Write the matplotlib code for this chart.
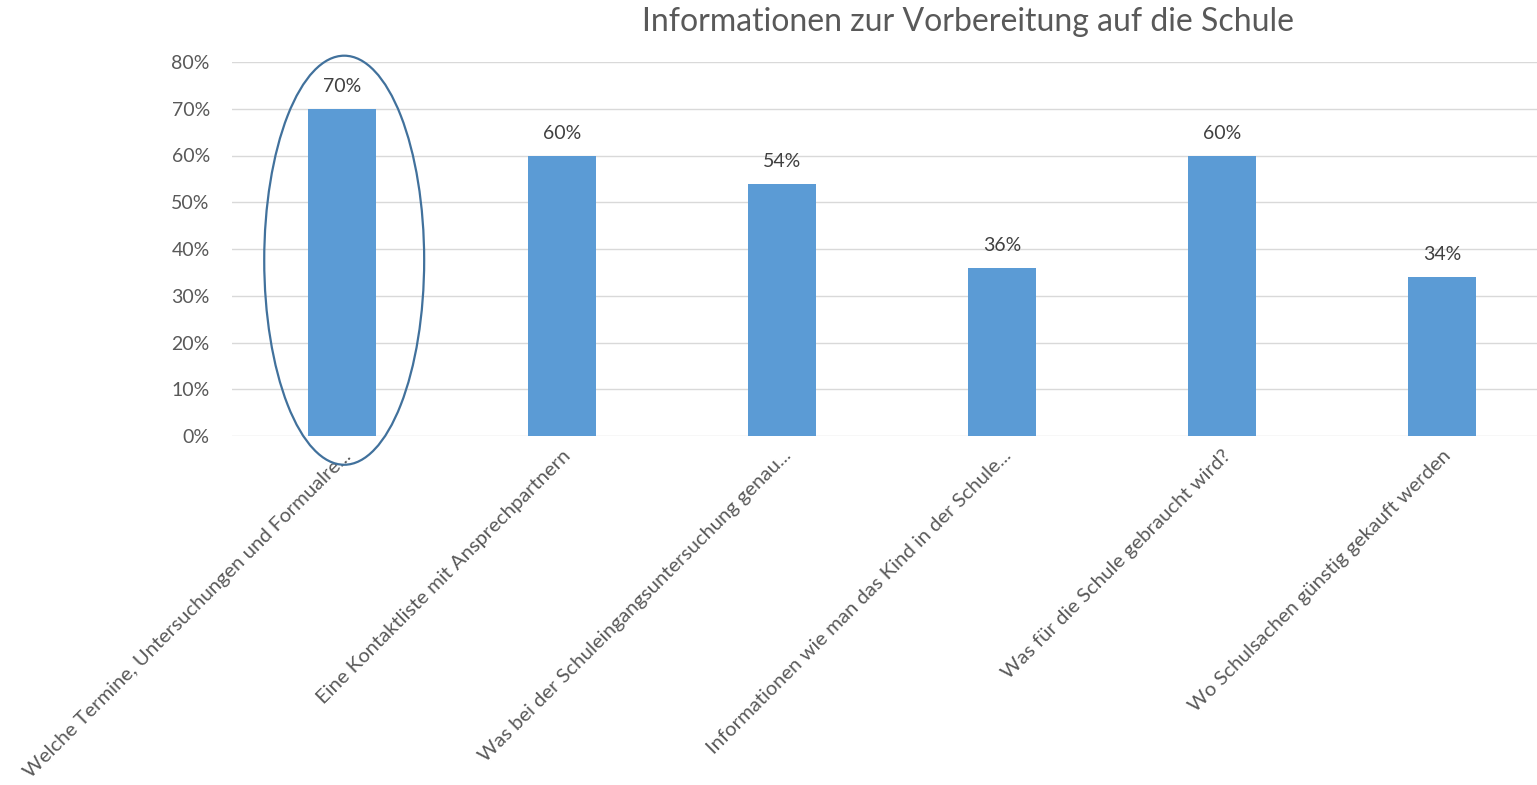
import numpy as np
import matplotlib.pyplot as plt
from matplotlib.patches import Ellipse
from matplotlib.ticker import FuncFormatter

plt.rcParams['font.family'] = ['Lato', 'DejaVu Sans']

# Daten
categories = [
    "Welche Termine, Untersuchungen und Formualre...",
    "Eine Kontaktliste mit Ansprechpartnern",
    "Was bei der Schuleingangsuntersuchung genau...",
    "Informationen wie man das Kind in der Schule...",
    "Was für die Schule gebraucht wird?",
    "Wo Schulsachen günstig gekauft werden",
]
values = [70, 60, 54, 36, 60, 34]
value_labels = ["70%", "60%", "54%", "36%", "60%", "34%"]
yticks = [0, 10, 20, 30, 40, 50, 60, 70, 80]

bar_color = "#5b9bd5"
text_color = "#595959"

fig = plt.figure(figsize=(15.37, 7.85), dpi=100)
ax = fig.add_axes([232 / 1537, 1 - 436 / 785, 1320 / 1537, 374 / 785])

x = np.arange(len(categories))
ax.bar(x, values, width=0.31, color=bar_color, zorder=3)

for xi, v, lab in zip(x, values, value_labels):
    ax.annotate(lab, (xi, v), xytext=(0, 10), textcoords="offset points",
                ha="center", va="bottom", fontsize=14, color="#404040")

ax.set_xlim(-0.5, len(categories) - 0.5)
ax.set_ylim(0, 80)
ax.set_yticks(yticks)
ax.yaxis.set_major_formatter(FuncFormatter(lambda v, p: f"{v:.0f}%"))
ax.grid(axis="y", color="#d9d9d9", linewidth=1, zorder=0)
for s in ax.spines.values():
    s.set_visible(False)
ax.tick_params(axis="both", length=0, colors=text_color, labelsize=14)
ax.tick_params(axis="y", pad=16)

ax.set_xticks(x)
ax.set_xticklabels(categories, rotation=45, ha="right", rotation_mode="anchor",
                   fontsize=14.6, color=text_color)
ax.tick_params(axis="x", pad=8)

# Markierung der ersten Kategorie
ell = Ellipse((0.01, 37.6), 0.727, 87.5, fill=False, edgecolor="#41719c",
              linewidth=1.6, clip_on=False, zorder=4)
ax.add_patch(ell)

fig.text(968 / 1537, 1 - 22 / 785, "Informationen zur Vorbereitung auf die Schule",
         ha="center", va="center", fontsize=23, color=text_color)

fig.savefig("out.png", dpi=100)
